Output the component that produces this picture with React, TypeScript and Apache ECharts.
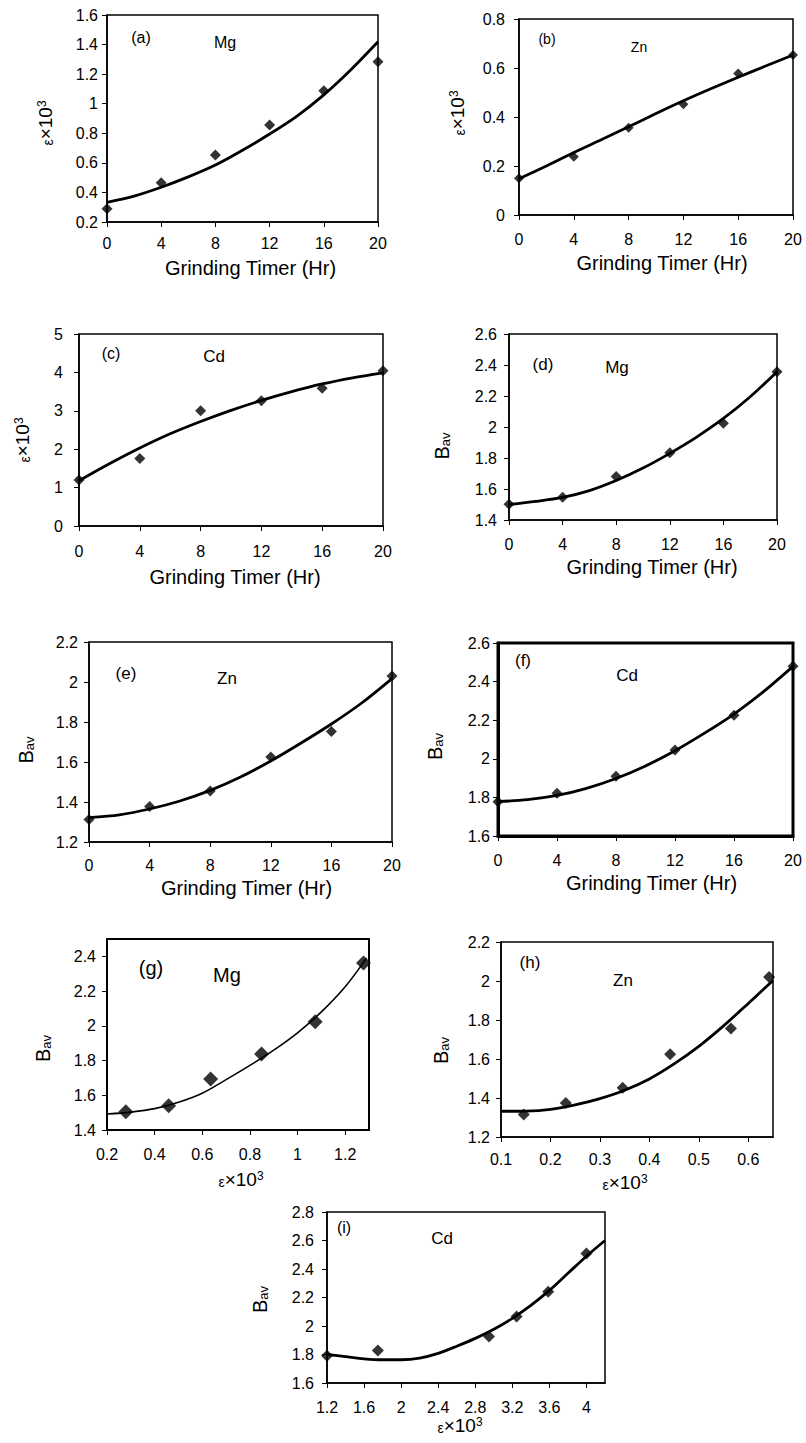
import React, { useEffect, useRef } from "react";
import * as echarts from "echarts";

// ---------- data ----------
const grindHours = [0, 4, 8, 12, 16, 20];
const fitHours = [0, 2, 4, 6, 8, 10, 12, 14, 16, 18, 20];

// (a) Mg strain vs time
const strainMg = [0.29, 0.466, 0.653, 0.856, 1.088, 1.284];
const strainMgFit = [0.333, 0.375, 0.435, 0.505, 0.585, 0.685, 0.795, 0.915, 1.06, 1.23, 1.419];
// (b) Zn strain vs time
const strainZn = [0.15, 0.238, 0.356, 0.452, 0.578, 0.653];
const strainZnFit = [0.148, 0.2, 0.255, 0.307, 0.36, 0.414, 0.466, 0.515, 0.562, 0.608, 0.653];
// (c) Cd strain vs time
const strainCd = [1.2, 1.76, 3.0, 3.26, 3.59, 4.04];
const strainCdFit = [1.18, 1.62, 2.03, 2.4, 2.72, 3.01, 3.27, 3.5, 3.7, 3.86, 3.99];
// (d) Mg Bav vs time
const bavMg = [1.501, 1.546, 1.68, 1.834, 2.024, 2.357];
const bavMgFit = [1.5, 1.52, 1.546, 1.59, 1.655, 1.735, 1.83, 1.935, 2.055, 2.195, 2.357];
// (e) Zn Bav vs time
const bavZn = [1.312, 1.378, 1.455, 1.625, 1.753, 2.03];
const bavZnFit = [1.322, 1.336, 1.365, 1.405, 1.458, 1.525, 1.605, 1.695, 1.79, 1.895, 2.017];
// (f) Cd Bav vs time
const bavCd = [1.778, 1.821, 1.91, 2.045, 2.226, 2.479];
const bavCdFit = [1.778, 1.788, 1.81, 1.847, 1.898, 1.963, 2.042, 2.133, 2.232, 2.348, 2.479];
// (g) Mg Bav vs strain
const strainMgG = [0.279, 0.459, 0.635, 0.849, 1.074, 1.277];
const bavMgG = [1.505, 1.54, 1.693, 1.837, 2.023, 2.362];
const strainMgGFit = [0.2, 0.3, 0.4, 0.5, 0.6, 0.7, 0.8, 0.9, 1.0, 1.1, 1.2, 1.29];
const bavMgGFit = [1.492, 1.503, 1.523, 1.56, 1.612, 1.69, 1.772, 1.86, 1.96, 2.08, 2.225, 2.39];
// (h) Zn Bav vs strain
const strainZnH = [0.146, 0.231, 0.346, 0.442, 0.565, 0.642];
const bavZnH = [1.315, 1.374, 1.453, 1.624, 1.756, 2.021];
const strainZnHFit = [0.1, 0.15, 0.2, 0.25, 0.3, 0.35, 0.4, 0.45, 0.5, 0.55, 0.6, 0.65];
const bavZnHFit = [1.332, 1.333, 1.342, 1.365, 1.397, 1.44, 1.498, 1.575, 1.665, 1.77, 1.885, 2.003];
// (i) Cd Bav vs strain
const strainCdI = [1.2, 1.749, 2.948, 3.246, 3.587, 4.0];
const bavCdI = [1.791, 1.828, 1.926, 2.066, 2.241, 2.509];
const strainCdIFit = [1.2, 1.4, 1.6, 1.8, 2.0, 2.2, 2.4, 2.6, 2.8, 3.0, 3.2, 3.4, 3.6, 3.8, 4.0, 4.2];
const bavCdIFit = [1.8, 1.785, 1.77, 1.763, 1.763, 1.775, 1.808, 1.858, 1.913, 1.977, 2.054, 2.145, 2.25, 2.37, 2.49, 2.6];

// axis ranges [min, max, interval]
const timeAxis = [0, 20, 4];
const yRangeA = [0.2, 1.6, 0.2];
const yRangeB = [0, 0.8, 0.2];
const yRangeC = [0, 5, 1];
const yRangeD = [1.4, 2.6, 0.2];
const yRangeE = [1.2, 2.2, 0.2];
const yRangeF = [1.6, 2.6, 0.2];
const xRangeG = [0.2, 1.3, 0.2];
const yRangeG = [1.4, 2.5, 0.2];
const xRangeH = [0.1, 0.65, 0.1];
const yRangeH = [1.2, 2.2, 0.2];
const xRangeI = [1.2, 4.2, 0.4];
const yRangeI = [1.6, 2.8, 0.2];

const panelTags = ["(a)", "(b)", "(c)", "(d)", "(e)", "(f)", "(g)", "(h)", "(i)"];
const panelElements = ["Mg", "Zn", "Cd", "Mg", "Zn", "Cd", "Mg", "Zn", "Cd"];

const timeName = "Grinding Timer (Hr)";
const strainName = "{e|ε}{m|×10}{s|3}";
const bavName = "{b|B}{sub|av}";

const FONT = "'Liberation Sans', Arial, Helvetica, sans-serif";

const richStyles = {
  e: { fontSize: 14, fontFamily: FONT, color: "#000", verticalAlign: "bottom" },
  m: { fontSize: 19, fontFamily: FONT, color: "#000" },
  s: { fontSize: 12, fontFamily: FONT, color: "#000", verticalAlign: "top" },
  b: { fontSize: 20, fontFamily: FONT, color: "#000" },
  sub: { fontSize: 13, fontFamily: FONT, color: "#000", verticalAlign: "bottom" },
};

const pair = (xs: number[], ys: number[]) => xs.map((x, i) => [x, ys[i]]);

// layout: grid [left, top, width, height]; gaps; label margins; border width;
// xPad / yPad = padding shifting the axis names along their axes
const panels = [
  { grid: [107, 15, 271, 207], xr: timeAxis, yr: yRangeA, xName: timeName, yName: strainName, xGap: 36, xPad: [0, 0, 0, 16], yGap: 52, yPad: [0, 9, 0, 0], xm: 13, ym: 9, bw: 1.5, pts: pair(grindHours, strainMg), fit: pair(fitHours, strainMgFit), lw: 2.8, ss: 11, tag: [141, 37, 16], el: [225, 42, 16] },
  { grid: [519, 19, 274, 196], xr: timeAxis, yr: yRangeB, xName: timeName, yName: strainName, xGap: 38, xPad: [0, 0, 0, 12], yGap: 52, yPad: [0, 0, 0, 8], xm: 16, ym: 14, bw: 1.5, pts: pair(grindHours, strainZn), fit: pair(fitHours, strainZnFit), lw: 2.8, ss: 10, tag: [547, 39, 14], el: [639, 47, 14] },
  { grid: [79, 334, 304, 192], xr: timeAxis, yr: yRangeC, xName: timeName, yName: strainName, xGap: 41, xPad: [0, 0, 0, 8], yGap: 47, yPad: [0, 20, 0, 0], xm: 17, ym: 16, bw: 1.5, pts: pair(grindHours, strainCd), fit: pair(fitHours, strainCdFit), lw: 2.8, ss: 11, tag: [111, 353, 16], el: [214, 356, 17] },
  { grid: [509, 334, 268, 186], xr: timeAxis, yr: yRangeD, xName: timeName, yName: bavName, xGap: 37, xPad: [0, 0, 0, 18], yGap: 57, yPad: [0, 38, 0, 0], xm: 16, ym: 12, bw: 1.5, pts: pair(grindHours, bavMg), fit: pair(fitHours, bavMgFit), lw: 2.8, ss: 11, tag: [543, 364, 17], el: [617, 367, 17] },
  { grid: [89, 642, 303, 200], xr: timeAxis, yr: yRangeE, xName: timeName, yName: bavName, xGap: 36, xPad: [0, 0, 0, 12], yGap: 53, yPad: [0, 16, 0, 0], xm: 15, ym: 11, bw: 1.5, pts: pair(grindHours, bavZn), fit: pair(fitHours, bavZnFit), lw: 2.8, ss: 11, tag: [126, 673, 17], el: [227, 678, 17] },
  { grid: [498, 643, 295, 193], xr: timeAxis, yr: yRangeF, xName: timeName, yName: bavName, xGap: 37, xPad: [0, 0, 0, 12], yGap: 53, yPad: [0, 14, 0, 0], xm: 16, ym: 8, bw: 3, pts: pair(grindHours, bavCd), fit: pair(fitHours, bavCdFit), lw: 2.8, ss: 11, tag: [523, 660, 17], el: [627, 675, 17] },
  { grid: [107, 939, 262, 191], xr: xRangeG, yr: yRangeG, xName: strainName, yName: bavName, xGap: 40, xPad: [0, 0, 0, 6], yGap: 54, yPad: [0, 28, 0, 0], xm: 16, ym: 11, bw: 2, pts: pair(strainMgG, bavMgG), fit: pair(strainMgGFit, bavMgGFit), lw: 1.6, ss: 15, tag: [151, 968, 20], el: [227, 975, 20] },
  { grid: [501, 942, 272, 195], xr: xRangeH, yr: yRangeH, xName: strainName, yName: bavName, xGap: 36, xPad: [0, 24, 0, 0], yGap: 50, yPad: [0, 22, 0, 0], xm: 14, ym: 11, bw: 1.5, pts: pair(strainZnH, bavZnH), fit: pair(strainZnHFit, bavZnHFit), lw: 2.8, ss: 12, tag: [530, 962, 17], el: [623, 980, 17] },
  { grid: [327, 1212, 278, 171], xr: xRangeI, yr: yRangeI, xName: strainName, yName: bavName, xGap: 30, xPad: [0, 12, 0, 0], yGap: 57, yPad: [0, 4, 0, 0], xm: 16, ym: 13, bw: 1.5, pts: pair(strainCdI, bavCdI), fit: pair(strainCdIFit, bavCdIFit), lw: 2.8, ss: 12, tag: [344, 1227, 16], el: [442, 1238, 17] },
];

const isMultiple = (v: number, step: number) => Math.abs(v / step - Math.round(v / step)) < 1e-6;

export default function App() {
  const ref = useRef<HTMLDivElement>(null);

  useEffect(() => {
    if (!ref.current) return;
    const chart = echarts.init(ref.current, undefined, { renderer: "svg" });

    const grids = panels.map((p) => ({
      left: p.grid[0],
      top: p.grid[1],
      width: p.grid[2],
      height: p.grid[3],
      show: true,
      borderColor: "#000",
      borderWidth: p.bw,
      backgroundColor: "transparent",
      containLabel: false,
      outerBoundsMode: "none",
    }));

    const axisCommon = (p: any) => ({
      type: "value",
      nameLocation: "middle",
      splitLine: { show: false },
      axisLine: { show: true, onZero: false, lineStyle: { color: "#000", width: p.bw } },
      axisTick: { show: true, inside: false, length: 5, lineStyle: { color: "#000", width: 1 } },
    });

    const xAxes = panels.map((p, i) => ({
      ...axisCommon(p),
      gridIndex: i,
      min: p.xr[0],
      max: p.xr[1],
      interval: p.xr[2],
      name: p.xName,
      nameGap: p.xGap,
      nameTextStyle: { fontSize: 20, fontFamily: FONT, color: "#000", rich: richStyles, padding: p.xPad },
      axisLabel: { color: "#000", fontSize: 16, fontFamily: FONT, margin: p.xm, showMaxLabel: isMultiple(p.xr[1], p.xr[2]) },
    }));

    const yAxes = panels.map((p, i) => ({
      ...axisCommon(p),
      gridIndex: i,
      min: p.yr[0],
      max: p.yr[1],
      interval: p.yr[2],
      name: p.yName,
      nameGap: p.yGap,
      nameTextStyle: { fontSize: 19, fontFamily: FONT, color: "#000", rich: richStyles, padding: p.yPad },
      axisLabel: { color: "#000", fontSize: 16, fontFamily: FONT, margin: p.ym, showMaxLabel: isMultiple(p.yr[1], p.yr[2]) },
    }));

    const series: any[] = [];
    panels.forEach((p, i) => {
      series.push({
        type: "line",
        xAxisIndex: i,
        yAxisIndex: i,
        data: p.fit,
        smooth: 0.3,
        symbol: "none",
        showSymbol: false,
        silent: true,
        lineStyle: { color: "#000", width: p.lw },
        z: 2,
      });
      series.push({
        type: "scatter",
        xAxisIndex: i,
        yAxisIndex: i,
        data: p.pts,
        symbol: "diamond",
        symbolSize: p.ss,
        clip: false,
        silent: true,
        itemStyle: { color: "#000" },
        z: 3,
      });
    });

    const graphics: any[] = [];
    panels.forEach((p, i) => {
      graphics.push({
        type: "text",
        x: p.tag[0],
        y: p.tag[1],
        style: { text: panelTags[i], fontSize: p.tag[2], fontFamily: FONT, fill: "#000", align: "center", verticalAlign: "middle", textAlign: "center", textVerticalAlign: "middle" },
      });
      graphics.push({
        type: "text",
        x: p.el[0],
        y: p.el[1],
        style: { text: panelElements[i], fontSize: p.el[2], fontFamily: FONT, fill: "#000", align: "center", verticalAlign: "middle", textAlign: "center", textVerticalAlign: "middle" },
      });
    });

    chart.setOption({
      animation: false,
      backgroundColor: "#fff",
      textStyle: { fontFamily: FONT, color: "#000" },
      grid: grids,
      xAxis: xAxes,
      yAxis: yAxes,
      series,
      graphic: graphics,
    });

    return () => chart.dispose();
  }, []);

  return (
    <div
      ref={ref}
      style={{ position: "absolute", left: 0, top: 0, width: 806, height: 1443, background: "#fff" }}
    />
  );
}
